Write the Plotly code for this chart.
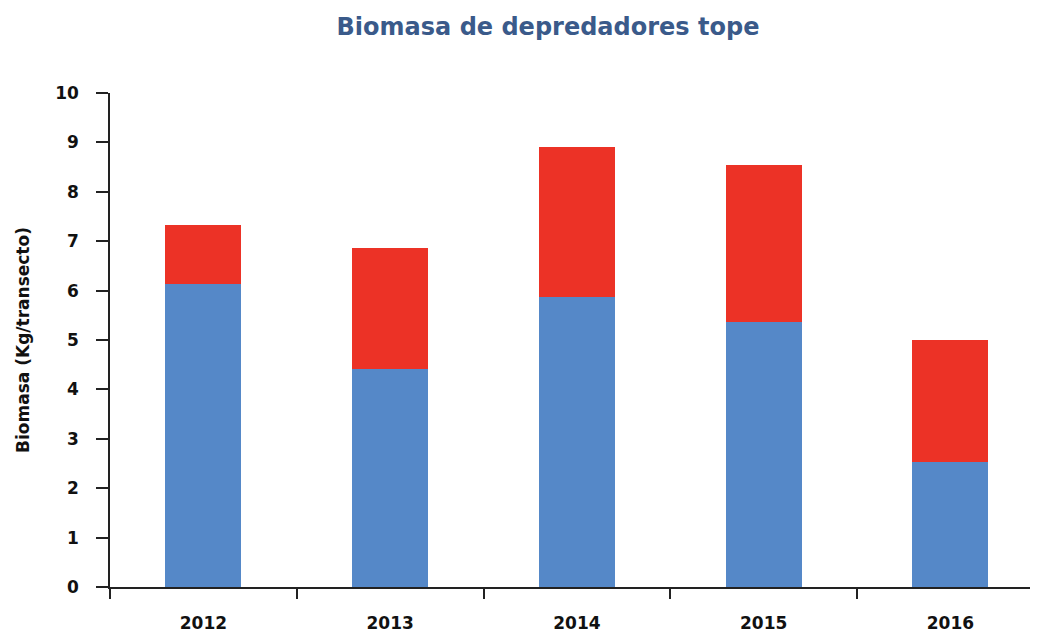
import plotly.graph_objects as go

years = ["2012", "2013", "2014", "2015", "2016"]
blue_vals = [6.13, 4.42, 5.88, 5.37, 2.54]
totals = [7.32, 6.87, 8.91, 8.55, 5.01]
red_vals = [round(t - b, 2) for t, b in zip(totals, blue_vals)]
y_ticks = list(range(0, 11))

FONT = "DejaVu Sans"
# the page body has an 8px default margin, so the figure is sized to end at the window edge
W, H = 1030, 625

fig = go.Figure()
fig.add_trace(go.Bar(x=years, y=blue_vals, marker=dict(color="#5588C8", line_width=0),
                     name="Serie 1"))
fig.add_trace(go.Bar(x=years, y=red_vals, marker=dict(color="#EC3226", line_width=0),
                     name="Serie 2"))

fig.update_layout(
    barmode="stack",
    bargap=0.593,
    width=W, height=H,
    margin=dict(l=102, r=0, t=85, b=46, autoexpand=False),
    paper_bgcolor="white", plot_bgcolor="white",
    showlegend=False,
    font=dict(family=FONT, color="#111111"),
    title=dict(text="<b>Biomasa de depredadores tope</b>", x=540 / W, xanchor="center",
               y=1 - 19 / H, yanchor="middle",
               font=dict(size=24, color="#3A5A8A", family=FONT)),
)
fig.update_xaxes(
    type="category", range=[-0.5, 4.469], automargin=False,
    showline=True, linecolor="#222222", linewidth=1.5,
    ticks="outside", ticklen=10, tickcolor="#222222", tickwidth=1.5,
    tickson="boundaries",
    tickfont=dict(size=17, family=FONT, color="#111111", weight="bold"),
    ticklabelstandoff=20,
    showgrid=False, zeroline=False,
)
fig.update_yaxes(
    range=[0, 10], tickvals=y_ticks, automargin=False,
    showline=True, linecolor="#222222", linewidth=1.5,
    ticks="outside", ticklen=12, tickcolor="#222222", tickwidth=1.5,
    tickfont=dict(size=17, family=FONT, color="#111111", weight="bold"),
    ticklabelstandoff=14,
    showgrid=False, zeroline=False,
    title=dict(text="<b>Biomasa (Kg/transecto)</b>", font=dict(size=17, family=FONT, color="#111111"),
               standoff=21),
)

fig.write_html("out.html")
